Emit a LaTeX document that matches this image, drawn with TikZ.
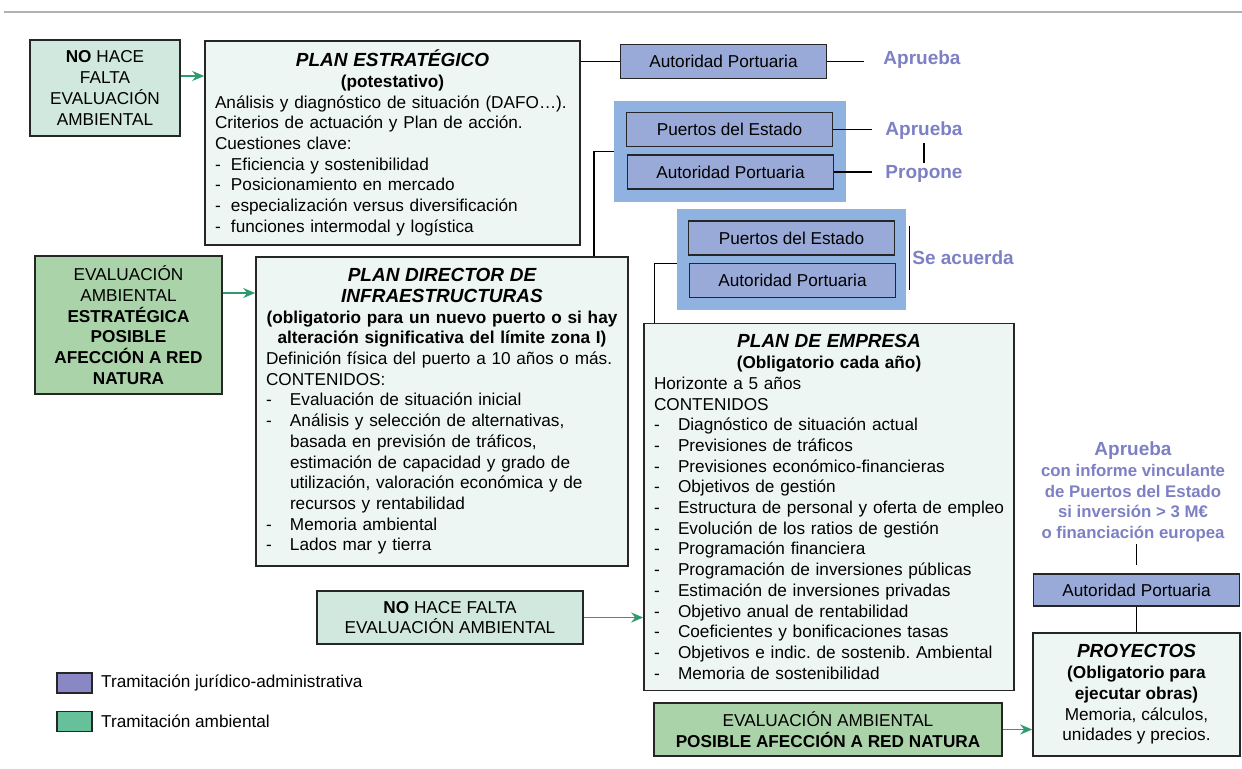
\documentclass[tikz,border=0pt]{standalone}
\usepackage{fontspec}
\setmainfont{Liberation Sans}
\usetikzlibrary{positioning, arrows.meta}
\frenchspacing

\definecolor{verdeClaro}{RGB}{208,232,221}
\definecolor{verdeMedio}{RGB}{171,211,170}
\definecolor{fondoPlan}{RGB}{238,246,243}
\definecolor{azulAP}{RGB}{153,170,216}
\definecolor{azulGrupo}{RGB}{143,178,224}
\definecolor{textoAzul}{RGB}{125,128,196}
\definecolor{flechaVerde}{RGB}{46,154,110}
\definecolor{leyMorado}{RGB}{138,135,197}
\definecolor{leyVerde}{RGB}{102,192,154}

\newcommand{\guion}[1]{\makebox[#1][l]{-}}
\newcommand{\titulo}[1]{{\fontsize{9.5}{10.35}\selectfont\bfseries\itshape #1}}

\begin{document}
\begin{tikzpicture}[>={Stealth[length=6pt, width=5pt]}, x=0.5pt, y=-0.5pt,
    every node/.style={font=\fontsize{8.6}{10.35}\selectfont},
    caja/.style={draw=black!85, line width=0.8pt, inner sep=0pt, align=center},
    plan/.style={caja, fill=fondoPlan, align=left, inner xsep=5.5pt},
    ap/.style={caja, fill=azulAP, minimum width=103pt, minimum height=17pt},
    grupo/.style={fill=azulGrupo, inner sep=0pt},
    etiq/.style={text=textoAzul, font=\fontsize{9.5}{10.35}\selectfont\bfseries, inner sep=0pt},
    linea/.style={line width=0.7pt},
    flecha/.style={->, draw=flechaVerde, fill=flechaVerde, line width=0.9pt}]

    \useasboundingbox (0,0) rectangle (1242,769);

    % Top rule
    \draw[gray!60, line width=1.2pt] (4,12) -- (1242,12);

    % Plan estrategico
    \node[caja, fill=verdeClaro, minimum width=75pt, minimum height=48pt] at (105,88) (nohace1)
        {\textbf{NO} HACE\\FALTA\\EVALUACIÓN\\AMBIENTAL};
    \node[plan, inner xsep=5pt, text width=177.5pt, minimum height=102pt] at (392.5,143) (pe) {%
        {\centering\titulo{PLAN ESTRATÉGICO}\\\textbf{(potestativo)}\par}
        Análisis y diagnóstico de situación (DAFO…).\\
        Criterios de actuación y Plan de acción.\\
        Cuestiones clave:\\
        \guion{8pt}Eficiencia y sostenibilidad\\
        \guion{8pt}Posicionamiento en mercado\\
        \guion{8pt}especialización versus diversificación\\
        \guion{8pt}funciones intermodal y logística};
    \draw[flecha] ([yshift=6pt]nohace1.east) -- ([yshift=6pt]nohace1.east -| pe.west);

    \node[ap] at (723.5,61.5) (ap1) {Autoridad Portuaria};
    \node[etiq] at (922,60) (apr1) {Aprueba};
    \draw[linea] (ap1.west -| pe.east) -- (ap1.west);
    \draw[linea, shorten >=9.5pt] (ap1.east) -- (ap1.east -| apr1.west);

    % Puertos del Estado + Autoridad Portuaria (plan director)
    \node[grupo, minimum width=116pt, minimum height=50.5pt] at (730,151.5) (grp1) {};
    \node[ap] at (729.5,129.5) (pde1) {Puertos del Estado};
    \node[ap] at (730.5,172) (ap2) {Autoridad Portuaria};
    \node[etiq] at (924,131) (apr2) {Aprueba};
    \node[etiq] at (924,174) (prop) {Propone};
    \draw[linea, shorten >=6.5pt] (pde1.east) -- (pde1.east -| apr2.west);
    \draw[linea, shorten >=6.5pt] (ap2.east) -- (ap2.east -| prop.west);
    \draw[linea, shorten <=1.5pt, shorten >=1pt] (apr2.south) -- (prop.north);

    % Plan director
    \node[caja, fill=verdeMedio, minimum width=93.5pt, minimum height=69pt] at (128.5,325) (eae)
        {EVALUACIÓN\\AMBIENTAL\\\textbf{ESTRATÉGICA}\\\textbf{POSIBLE}\\\textbf{AFECCIÓN A RED}\\\textbf{NATURA}};
    \node[plan, inner xsep=5pt, text width=176pt, minimum height=154.5pt] at (442,411.5) (pd) {%
        {\centering\titulo{PLAN DIRECTOR DE}\\\titulo{INFRAESTRUCTURAS}\\
        \textbf{(obligatorio para un nuevo puerto o si hay}\\
        \textbf{alteración significativa del límite zona I)}\par}
        Definición física del puerto a 10 años o más.\\
        CONTENIDOS:\\
        \guion{12pt}Evaluación de situación inicial\\
        \guion{12pt}Análisis y selección de alternativas,\\
        \hspace*{12pt}basada en previsión de tráficos,\\
        \hspace*{12pt}estimación de capacidad y grado de\\
        \hspace*{12pt}utilización, valoración económica y de\\
        \hspace*{12pt}recursos y rentabilidad\\
        \guion{12pt}Memoria ambiental\\
        \guion{12pt}Lados mar y tierra};
    \draw[flecha] ([yshift=16pt]eae.east) -- ([yshift=16pt]eae.east -| pd.west);
    \draw[linea] (grp1.west) -| ([xshift=-17.5pt]pd.north east);

    % Puertos del Estado + Autoridad Portuaria (plan de empresa)
    \node[grupo, minimum width=114.5pt, minimum height=50.5pt] at (791.5,259.5) (grp2) {};
    \node[ap] at (791.5,238) (pde2) {Puertos del Estado};
    \node[ap] at (792.5,280.5) (ap4) {Autoridad Portuaria};
    \node[etiq, anchor=west] at (912,258) (acuerda) {Se acuerda};
    \draw[linea] ([xshift=1.5pt,yshift=-8.5pt]grp2.north east) -- ([xshift=1.5pt,yshift=10pt]grp2.south east);

    % Plan de empresa
    \node[plan, inner xsep=5pt, text width=175pt, minimum height=183.5pt] at (829,507) (pemp) {%
        {\centering\titulo{PLAN DE EMPRESA}\\\textbf{(Obligatorio cada año)}\par}
        Horizonte a 5 años\\
        CONTENIDOS\\
        \guion{12pt}Diagnóstico de situación actual\\
        \guion{12pt}Previsiones de tráficos\\
        \guion{12pt}Previsiones económico-financieras\\
        \guion{12pt}Objetivos de gestión\\
        \mbox{\guion{12pt}Estructura de personal y oferta de empleo}\\
        \guion{12pt}Evolución de los ratios de gestión\\
        \guion{12pt}Programación financiera\\
        \guion{12pt}Programación de inversiones públicas\\
        \guion{12pt}Estimación de inversiones privadas\\
        \guion{12pt}Objetivo anual de rentabilidad\\
        \guion{12pt}Coeficientes y bonificaciones tasas\\
        \guion{12pt}Objetivos e indic. de sostenib. Ambiental\\
        \guion{12pt}Memoria de sostenibilidad};
    \draw[linea] ([yshift=-2pt]grp2.west) -| ([xshift=5.5pt]pemp.north west);

    \node[caja, fill=verdeClaro, minimum width=133pt, minimum height=26.5pt] at (450,617.5) (nohace2)
        {\textbf{NO} HACE FALTA\\EVALUACIÓN AMBIENTAL};
    \draw[flecha] (nohace2.east) -- (nohace2.east -| pemp.west);

    % Proyectos
    \node[etiq, align=center, font=\fontsize{8.4}{10.35}\selectfont\bfseries] at (1133,492) (nota)
        {{\fontsize{9.5}{10.35}\selectfont Aprueba}\\con informe vinculante\\de Puertos del Estado\\si inversión > 3 M€\\o financiación europea};
    \node[ap, minimum height=16pt] at (1136.5,590) (ap5) {Autoridad Portuaria};
    \node[caja, fill=fondoPlan, minimum width=103.5pt, minimum height=61.5pt] at (1136.5,694.5) (proy)
        {\titulo{PROYECTOS}\\\textbf{(Obligatorio para}\\\textbf{ejecutar obras)}\\Memoria, cálculos,\\unidades y precios.};
    \draw[linea, shorten <=1pt, shorten >=4pt] (nota.south -| ap5.north) -- (ap5.north);
    \draw[linea] (ap5.south) -- (proy.north);

    \node[caja, fill=verdeMedio, minimum width=174pt, minimum height=26.5pt] at (828,729.5) (ea3)
        {EVALUACIÓN AMBIENTAL\\\textbf{POSIBLE AFECCIÓN A RED NATURA}};
    \draw[flecha] (ea3.east) -- (ea3.east -| proy.west);

    % Leyenda
    \node[caja, fill=leyMorado, minimum width=17.5pt, minimum height=10pt] at (74.5,683) (ley1) {};
    \node[right=4pt of ley1, inner sep=0pt] (ley1txt) {Tramitación jurídico-administrativa};
    \node[caja, fill=leyVerde, minimum width=17.5pt, minimum height=10pt] at (74.5,721.5) (ley2) {};
    \node[right=4pt of ley2, inner sep=0pt] (ley2txt) {Tramitación ambiental};
\end{tikzpicture}
\end{document}
